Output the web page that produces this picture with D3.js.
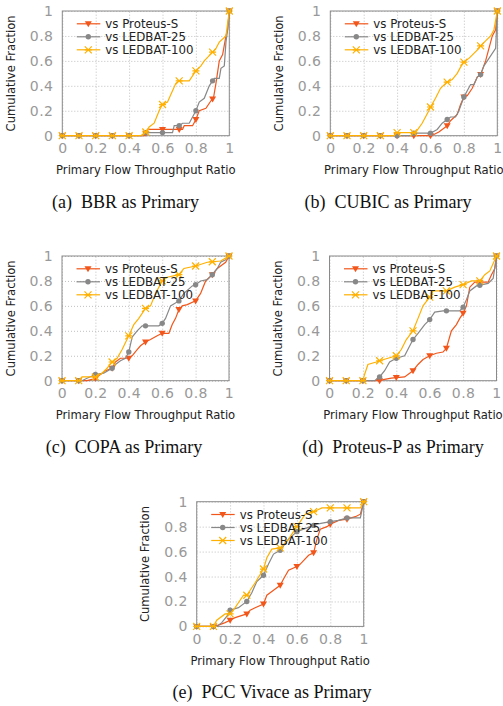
<!DOCTYPE html>
<html>
<head>
<meta charset="utf-8">
<script src="https://cdn.jsdelivr.net/npm/d3@7"></script>
<style>
  html, body { margin: 0; padding: 0; background: #fff; }
  svg { display: block; }
</style>
</head>
<body>
<svg id="chart"></svg>
<script>
let width = 503, height = 706;

// Data
let seriesNames = ["vs Proteus-S", "vs LEDBAT-25", "vs LEDBAT-100"];
let captions = ["(a)\u00a0\u00a0BBR as Primary", "(b)\u00a0\u00a0CUBIC as Primary", "(c)\u00a0\u00a0COPA as Primary",
  "(d)\u00a0\u00a0Proteus-P as Primary", "(e)\u00a0\u00a0PCC Vivace as Primary"];
let xTicks = [0, 0.2, 0.4, 0.6, 0.8, 1];
let yTicks = [0, 0.2, 0.4, 0.6, 0.8, 1];
let xTitle = "Primary Flow Throughput Ratio";
let yTitle = "Cumulative Fraction";

let bbrProteusS = [[0,0],[0.49,0],[0.5,0.02],[0.51,0.05],[0.72,0.05],[0.73,0.08],[0.78,0.08],[0.8,0.13],[0.82,0.2],[0.86,0.22],[0.89,0.28],[0.905,0.3],[0.92,0.42],[0.94,0.6],[0.96,0.65],[0.98,0.8],[0.99,0.85],[1,1]];
let bbrLedbat25 = [[0,0],[0.48,0],[0.5,0.025],[0.66,0.025],[0.67,0.08],[0.7,0.08],[0.72,0.1],[0.76,0.1],[0.78,0.15],[0.8,0.2],[0.82,0.27],[0.85,0.3],[0.88,0.4],[0.9,0.44],[0.91,0.46],[0.94,0.46],[0.95,0.54],[0.97,0.56],[0.98,0.75],[0.99,0.85],[1,1]];
let bbrLedbat100 = [[0,0],[0.47,0],[0.5,0.03],[0.52,0.07],[0.55,0.1],[0.58,0.2],[0.6,0.25],[0.63,0.27],[0.65,0.33],[0.68,0.42],[0.7,0.44],[0.76,0.44],[0.78,0.48],[0.8,0.52],[0.83,0.56],[0.85,0.6],[0.9,0.67],[0.92,0.7],[0.94,0.75],[0.98,0.8],[1,1]];

let cubicProteusS = [[0,0],[0.6,0],[0.62,0.01],[0.65,0.03],[0.68,0.06],[0.7,0.08],[0.72,0.12],[0.76,0.17],[0.78,0.25],[0.8,0.31],[0.82,0.32],[0.85,0.38],[0.88,0.47],[0.9,0.49],[0.93,0.6],[0.95,0.7],[0.97,0.8],[0.99,0.85],[1,1]];
let cubicLedbat25 = [[0,0],[0.49,0],[0.5,0.02],[0.6,0.02],[0.64,0.05],[0.67,0.1],[0.7,0.13],[0.72,0.15],[0.75,0.15],[0.77,0.2],[0.8,0.31],[0.82,0.36],[0.84,0.41],[0.86,0.41],[0.88,0.47],[0.9,0.49],[0.92,0.56],[0.94,0.6],[0.96,0.64],[0.99,0.7],[1,1]];
let cubicLedbat100 = [[0,0],[0.38,0],[0.4,0.025],[0.51,0.025],[0.55,0.1],[0.59,0.2],[0.6,0.23],[0.63,0.3],[0.66,0.38],[0.7,0.43],[0.73,0.45],[0.76,0.5],[0.78,0.55],[0.8,0.59],[0.83,0.62],[0.86,0.66],[0.89,0.7],[0.9,0.72],[0.93,0.76],[0.96,0.8],[0.98,0.85],[1,1]];

let copaProteusS = [[0,0],[0.15,0],[0.18,0.01],[0.2,0.02],[0.23,0.05],[0.26,0.08],[0.3,0.1],[0.32,0.15],[0.35,0.18],[0.4,0.18],[0.42,0.2],[0.45,0.25],[0.47,0.28],[0.5,0.31],[0.53,0.33],[0.57,0.36],[0.6,0.38],[0.64,0.38],[0.66,0.45],[0.68,0.5],[0.7,0.57],[0.72,0.6],[0.75,0.61],[0.8,0.64],[0.83,0.7],[0.86,0.8],[0.9,0.85],[0.93,0.9],[0.96,0.93],[0.98,0.95],[1,1]];
let copaLedbat25 = [[0,0],[0.12,0],[0.15,0.02],[0.2,0.05],[0.25,0.06],[0.3,0.1],[0.32,0.13],[0.35,0.16],[0.38,0.18],[0.4,0.23],[0.42,0.35],[0.45,0.4],[0.48,0.44],[0.58,0.44],[0.6,0.46],[0.62,0.5],[0.65,0.6],[0.7,0.64],[0.73,0.7],[0.78,0.76],[0.8,0.77],[0.83,0.8],[0.87,0.81],[0.9,0.85],[0.93,0.9],[0.95,0.95],[0.98,0.97],[1,1]];
let copaLedbat100 = [[0,0],[0.1,0],[0.12,0.03],[0.2,0.03],[0.24,0.06],[0.27,0.1],[0.3,0.15],[0.33,0.18],[0.36,0.25],[0.4,0.36],[0.43,0.45],[0.46,0.5],[0.5,0.58],[0.53,0.6],[0.56,0.7],[0.6,0.8],[0.63,0.83],[0.7,0.85],[0.73,0.9],[0.8,0.92],[0.87,0.95],[0.95,0.96],[1,1]];

let proteusProteusS = [[0,0],[0.3,0],[0.33,0.01],[0.37,0.02],[0.4,0.025],[0.45,0.03],[0.5,0.08],[0.53,0.13],[0.56,0.17],[0.6,0.2],[0.64,0.22],[0.68,0.23],[0.7,0.26],[0.73,0.4],[0.76,0.45],[0.78,0.5],[0.8,0.54],[0.82,0.6],[0.84,0.75],[0.87,0.79],[0.95,0.79],[0.97,0.85],[0.99,0.9],[1,1]];
let proteusLedbat25 = [[0,0],[0.27,0],[0.3,0.03],[0.33,0.08],[0.36,0.15],[0.4,0.18],[0.45,0.2],[0.5,0.33],[0.53,0.38],[0.57,0.45],[0.6,0.49],[0.63,0.55],[0.68,0.56],[0.78,0.56],[0.8,0.59],[0.82,0.65],[0.84,0.72],[0.88,0.76],[0.95,0.78],[0.98,0.82],[1,1]];
let proteusLedbat100 = [[0,0],[0.2,0],[0.21,0.05],[0.23,0.13],[0.28,0.15],[0.3,0.16],[0.35,0.18],[0.4,0.2],[0.43,0.25],[0.46,0.33],[0.5,0.4],[0.53,0.5],[0.56,0.6],[0.6,0.67],[0.62,0.72],[0.7,0.72],[0.75,0.75],[0.8,0.77],[0.85,0.8],[0.9,0.8],[0.93,0.85],[0.96,0.88],[1,1]];

let vivaceProteusS = [[0,0],[0.1,0],[0.13,0.01],[0.17,0.03],[0.2,0.05],[0.23,0.07],[0.3,0.1],[0.32,0.13],[0.35,0.15],[0.4,0.18],[0.42,0.25],[0.45,0.28],[0.5,0.33],[0.52,0.38],[0.55,0.45],[0.6,0.48],[0.62,0.5],[0.67,0.57],[0.7,0.59],[0.72,0.7],[0.74,0.78],[0.78,0.8],[0.8,0.82],[0.85,0.85],[0.9,0.86],[0.95,0.88],[0.98,0.9],[1,1]];
let vivaceLedbat25 = [[0,0],[0.12,0],[0.15,0.03],[0.18,0.08],[0.2,0.13],[0.25,0.15],[0.3,0.2],[0.33,0.27],[0.36,0.36],[0.4,0.41],[0.43,0.5],[0.46,0.58],[0.5,0.61],[0.55,0.7],[0.6,0.76],[0.64,0.78],[0.72,0.82],[0.8,0.84],[0.85,0.85],[0.9,0.87],[0.98,0.87],[1,1]];
let vivaceLedbat100 = [[0,0],[0.1,0],[0.12,0.05],[0.17,0.1],[0.2,0.1],[0.23,0.15],[0.28,0.25],[0.3,0.25],[0.35,0.35],[0.4,0.46],[0.42,0.55],[0.45,0.62],[0.5,0.63],[0.55,0.7],[0.6,0.8],[0.65,0.9],[0.7,0.92],[0.75,0.95],[0.98,0.95],[1,1]];

let panelData = [
  [bbrProteusS, bbrLedbat25, bbrLedbat100],
  [cubicProteusS, cubicLedbat25, cubicLedbat100],
  [copaProteusS, copaLedbat25, copaLedbat100],
  [proteusProteusS, proteusLedbat25, proteusLedbat100],
  [vivaceProteusS, vivaceLedbat25, vivaceLedbat100]
];

// Layout (plot frame left/top, caption centre)
let panels = [
  { left: 62.3, top: 11, capX: 125.5 },
  { left: 330.3, top: 11, capX: 388 },
  { left: 62, top: 256, capX: 124 },
  { left: 329.5, top: 256, capX: 393 },
  { left: 196.7, top: 501.7, capX: 272 }
];
let plotW = 167, plotH = 124.7;
let colors = ["#f2561a", "#888888", "#ffb000"];
let markerXs = d3.range(0, 11).map(i => i / 10);

let svg = d3.select("#chart")
  .attr("width", width)
  .attr("height", height)
  .attr("viewBox", [0, 0, width, height]);

function valueAt(pts, x) {
  let i = d3.bisector(d => d[0]).left(pts, x);
  if (i <= 0) return pts[0][1];
  if (i >= pts.length) return pts[pts.length - 1][1];
  let a = pts[i - 1], b = pts[i];
  if (b[0] === a[0]) return b[1];
  return a[1] + (b[1] - a[1]) * (x - a[0]) / (b[0] - a[0]);
}

function drawMarker(g, k, x, y) {
  let c = colors[k];
  if (k === 0) {
    g.append("path")
      .attr("d", `M${x - 3.5},${y - 2.5}L${x + 3.5},${y - 2.5}L${x},${y + 3.5}Z`)
      .attr("fill", c);
  } else if (k === 1) {
    g.append("circle").attr("cx", x).attr("cy", y).attr("r", 2.7).attr("fill", c);
  } else {
    g.append("path")
      .attr("d", `M${x - 3.5},${y - 3.5}L${x + 3.5},${y + 3.5}M${x - 3.5},${y + 3.5}L${x + 3.5},${y - 3.5}M${x - 3.5},${y}L${x + 3.5},${y}`)
      .attr("stroke", c)
      .attr("stroke-width", 1.2)
      .attr("fill", "none");
  }
}

panels.forEach((p, pi) => {
  let xScale = d3.scaleLinear().domain([0, 1]).range([p.left, p.left + plotW]);
  let yScale = d3.scaleLinear().domain([0, 1]).range([p.top + plotH, p.top]);
  let bottom = p.top + plotH;
  let g = svg.append("g");

  // Grid
  g.append("g")
    .attr("transform", `translate(0,${bottom})`)
    .call(d3.axisBottom(xScale).tickValues(xTicks).tickSize(-plotH).tickFormat(""))
    .call(s => s.select(".domain").remove())
    .selectAll(".tick line")
    .attr("stroke", "#b0b0b0")
    .attr("stroke-width", 0.8)
    .attr("stroke-dasharray", "1,2");

  g.append("g")
    .attr("transform", `translate(${p.left},0)`)
    .call(d3.axisLeft(yScale).tickValues(yTicks).tickSize(-plotW).tickFormat(""))
    .call(s => s.select(".domain").remove())
    .selectAll(".tick line")
    .attr("stroke", "#b0b0b0")
    .attr("stroke-width", 0.8)
    .attr("stroke-dasharray", "1,2");

  // Frame
  g.append("rect")
    .attr("x", p.left)
    .attr("y", p.top)
    .attr("width", plotW)
    .attr("height", plotH)
    .attr("fill", "none")
    .attr("stroke", "#8a8a8a")
    .attr("stroke-width", 1);

  // Tick labels
  g.append("g")
    .attr("transform", `translate(0,${bottom + 17.5})`)
    .call(d3.axisBottom(xScale).tickValues(xTicks).tickSize(0).tickPadding(0).tickFormat(d3.format("~g")))
    .call(s => s.select(".domain").remove())
    .selectAll("text")
    .attr("dy", null)
    .attr("y", 0)
    .attr("fill", "#999")
    .style("font-family", "DejaVu Sans")
    .style("font-size", "14px")
    .style("letter-spacing", "0.4px");

  g.append("g")
    .attr("transform", `translate(${p.left - 9},0)`)
    .call(d3.axisLeft(yScale).tickValues(yTicks).tickSize(0).tickPadding(0).tickFormat(d3.format("~g")))
    .call(s => s.select(".domain").remove())
    .selectAll("text")
    .attr("fill", "#999")
    .style("font-family", "DejaVu Sans")
    .style("font-size", "14px")
    .style("letter-spacing", "0.4px");

  // Axis titles
  g.append("text")
    .attr("x", p.left + plotW / 2)
    .attr("y", bottom + 38.3)
    .attr("text-anchor", "middle")
    .style("font-family", "DejaVu Sans")
    .style("font-size", "11.6px")
    .attr("fill", "#222")
    .text(xTitle);

  g.append("text")
    .attr("transform", `translate(${p.left - 51},${p.top + plotH / 2}) rotate(-90)`)
    .attr("text-anchor", "middle")
    .attr("dominant-baseline", "middle")
    .style("font-family", "DejaVu Sans")
    .style("font-size", "11.6px")
    .attr("fill", "#222")
    .text(yTitle);

  // Series
  let line = d3.line().x(d => xScale(d[0])).y(d => yScale(d[1]));
  panelData[pi].forEach((pts, k) => {
    g.append("path")
      .datum(pts)
      .attr("d", line)
      .attr("fill", "none")
      .attr("stroke", colors[k])
      .attr("stroke-width", 1.2);
    markerXs.forEach(x => drawMarker(g, k, xScale(x), yScale(valueAt(pts, x))));
  });

  // Legend
  seriesNames.forEach((name, k) => {
    let ly = p.top + 12.8 + k * 13;
    g.append("line")
      .attr("x1", p.left + 14.5)
      .attr("x2", p.left + 38)
      .attr("y1", ly)
      .attr("y2", ly)
      .attr("stroke", colors[k])
      .attr("stroke-width", 1.2);
    drawMarker(g, k, p.left + 26, ly);
    g.append("text")
      .attr("x", p.left + 43)
      .attr("y", ly)
      .attr("dominant-baseline", "central")
      .style("font-family", "DejaVu Sans")
      .style("font-size", "11.8px")
      .attr("fill", "#222")
      .text(name);
  });

  // Caption
  svg.append("text")
    .attr("x", p.capX)
    .attr("y", bottom + 72)
    .attr("text-anchor", "middle")
    .style("font-family", "Liberation Serif")
    .style("font-size", "18px")
    .attr("fill", "#111")
    .text(captions[pi]);
});
</script>
</body>
</html>
